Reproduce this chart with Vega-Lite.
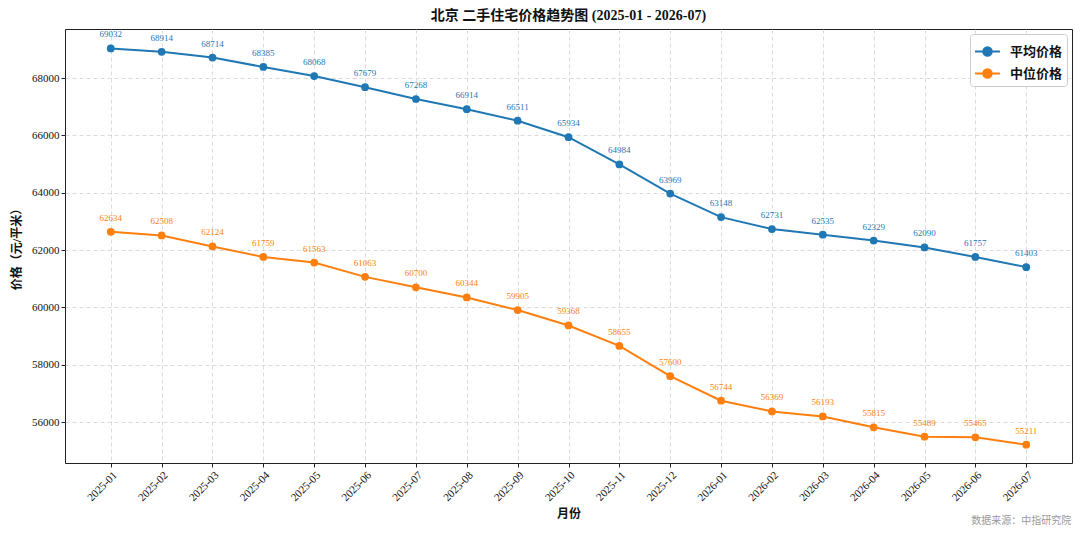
{
  "$schema": "https://vega.github.io/schema/vega-lite/v6.json",
  "autosize": {"type": "none"},
  "padding": {"left": 65, "top": 29, "right": 8, "bottom": 72},
  "width": 1007,
  "height": 434,
  "background": "white",
  "title": {
    "text": "北京 二手住宅价格趋势图 (2025-01 - 2026-07)",
    "font": "Liberation Serif, Noto Sans CJK SC",
    "fontSize": 14,
    "fontWeight": "bold",
    "color": "#111",
    "offset": 6
  },
  "config": {
    "font": "Liberation Serif, Noto Sans CJK SC",
    "view": {"stroke": "#222", "strokeWidth": 1}
  },
  "layer": [
    {
      "data": {
        "values": [
          {"month": "2025-01", "series": "平均价格", "price": 69032},
          {"month": "2025-02", "series": "平均价格", "price": 68914},
          {"month": "2025-03", "series": "平均价格", "price": 68714},
          {"month": "2025-04", "series": "平均价格", "price": 68385},
          {"month": "2025-05", "series": "平均价格", "price": 68068},
          {"month": "2025-06", "series": "平均价格", "price": 67679},
          {"month": "2025-07", "series": "平均价格", "price": 67268},
          {"month": "2025-08", "series": "平均价格", "price": 66914},
          {"month": "2025-09", "series": "平均价格", "price": 66511},
          {"month": "2025-10", "series": "平均价格", "price": 65934},
          {"month": "2025-11", "series": "平均价格", "price": 64984},
          {"month": "2025-12", "series": "平均价格", "price": 63969},
          {"month": "2026-01", "series": "平均价格", "price": 63148},
          {"month": "2026-02", "series": "平均价格", "price": 62731},
          {"month": "2026-03", "series": "平均价格", "price": 62535},
          {"month": "2026-04", "series": "平均价格", "price": 62329},
          {"month": "2026-05", "series": "平均价格", "price": 62090},
          {"month": "2026-06", "series": "平均价格", "price": 61757},
          {"month": "2026-07", "series": "平均价格", "price": 61403},
          {"month": "2025-01", "series": "中位价格", "price": 62634},
          {"month": "2025-02", "series": "中位价格", "price": 62508},
          {"month": "2025-03", "series": "中位价格", "price": 62124},
          {"month": "2025-04", "series": "中位价格", "price": 61759},
          {"month": "2025-05", "series": "中位价格", "price": 61563},
          {"month": "2025-06", "series": "中位价格", "price": 61063},
          {"month": "2025-07", "series": "中位价格", "price": 60700},
          {"month": "2025-08", "series": "中位价格", "price": 60344},
          {"month": "2025-09", "series": "中位价格", "price": 59905},
          {"month": "2025-10", "series": "中位价格", "price": 59368},
          {"month": "2025-11", "series": "中位价格", "price": 58655},
          {"month": "2025-12", "series": "中位价格", "price": 57600},
          {"month": "2026-01", "series": "中位价格", "price": 56744},
          {"month": "2026-02", "series": "中位价格", "price": 56369},
          {"month": "2026-03", "series": "中位价格", "price": 56193},
          {"month": "2026-04", "series": "中位价格", "price": 55815},
          {"month": "2026-05", "series": "中位价格", "price": 55489},
          {"month": "2026-06", "series": "中位价格", "price": 55465},
          {"month": "2026-07", "series": "中位价格", "price": 55211}
        ]
      },
      "encoding": {
        "x": {
          "field": "month",
          "type": "ordinal",
          "scale": {"type": "point", "padding": 0.9},
          "axis": {
            "title": "月份",
            "titleFontSize": 12,
            "titleFontWeight": "bold",
            "titleColor": "#111",
            "titlePadding": 6,
            "labelAngle": -45,
            "labelAlign": "right",
            "labelBaseline": "top",
            "labelFontSize": 11,
            "labelColor": "#111",
            "labelPadding": 2,
            "tickColor": "#222",
            "tickSize": 4,
            "domain": false,
            "grid": true,
            "gridDash": [4, 3],
            "gridColor": "#cccccc",
            "gridOpacity": 0.7
          }
        },
        "y": {
          "field": "price",
          "type": "quantitative",
          "scale": {"domain": [54570, 69710], "nice": false, "zero": false},
          "axis": {
            "title": "价格（元/平米）",
            "titleFontSize": 12,
            "titleFontWeight": "bold",
            "titleColor": "#111",
            "titlePadding": 8,
            "values": [56000, 58000, 60000, 62000, 64000, 66000, 68000],
            "format": "d",
            "labelFontSize": 11,
            "labelColor": "#111",
            "tickColor": "#222",
            "tickSize": 4,
            "domain": false,
            "grid": true,
            "gridDash": [4, 3],
            "gridColor": "#cccccc",
            "gridOpacity": 0.7
          }
        },
        "color": {
          "field": "series",
          "type": "nominal",
          "scale": {"domain": ["平均价格", "中位价格"], "range": ["#1f77b4", "#ff7f0e"]},
          "legend": {
            "title": null,
            "orient": "top-right",
            "offset": 5,
            "padding": 4,
            "fillColor": "white",
            "strokeColor": "#cccccc",
            "cornerRadius": 3,
            "labelFontSize": 13,
            "labelFontWeight": "bold",
            "labelColor": "#111",
            "labelOffset": 9,
            "rowPadding": -6,
            "symbolType": "M-1,0H1M-0.34,0A0.34,0.34 0 1,1 0.34,0A0.34,0.34 0 1,1 -0.34,0Z",
            "symbolSize": 620,
            "symbolStrokeWidth": 2,
            "encode": {
              "symbols": {
                "update": {
                  "fill": {"scale": "color", "field": "value"},
                  "stroke": {"scale": "color", "field": "value"},
                  "opacity": {"value": 1}
                }
              }
            }
          }
        }
      },
      "layer": [
        {"mark": {"type": "line", "strokeWidth": 2}},
        {"mark": {"type": "point", "filled": true, "size": 60, "opacity": 1}},
        {
          "mark": {"type": "text", "dy": -14, "fontSize": 9},
          "encoding": {"text": {"field": "price", "type": "quantitative", "format": "d"}}
        }
      ]
    },
    {
      "data": {"values": [{"note": "数据来源：中指研究院", "month": "2026-07", "price": 54570}]},
      "mark": {"type": "text", "align": "right", "baseline": "middle", "dx": 45, "dy": 58, "fontSize": 10, "color": "#999999", "clip": false},
      "encoding": {
        "x": {"field": "month", "type": "ordinal"},
        "y": {"field": "price", "type": "quantitative"},
        "text": {"field": "note", "type": "nominal"}
      }
    }
  ]
}
